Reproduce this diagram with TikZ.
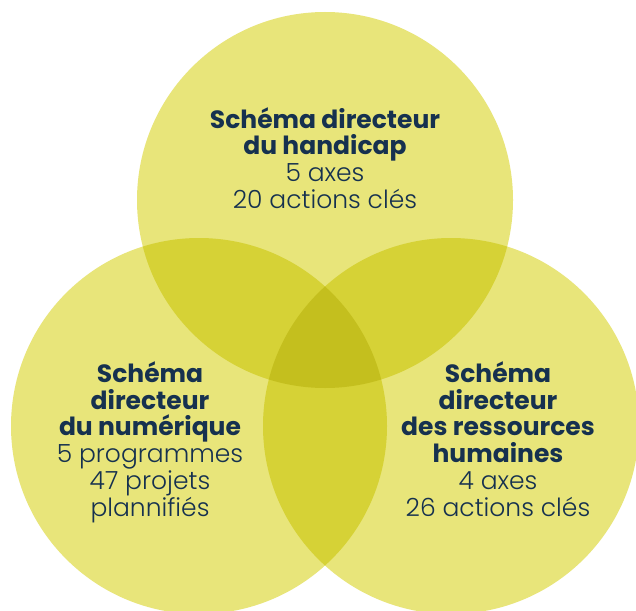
\documentclass[tikz,border=0pt]{standalone}
\usepackage{fontspec}
\setmainfont{Poppins}[UprightFont=* Light, BoldFont=* Bold]
\definecolor{lightY}{HTML}{E8E57A}
\definecolor{midY}{HTML}{D6D236}
\definecolor{darkY}{HTML}{C4BF1E}
\definecolor{navy}{HTML}{16314F}
\tikzset{
  txt/.style={align=center, text=navy, font=\fontsize{25}{26.8}\selectfont, inner sep=0pt},
}
\begin{document}
\begin{tikzpicture}[x=1pt,y=-1pt]
\useasboundingbox (0,0) rectangle (636,610);
\fill[white] (0,0) rectangle (636,610);
\coordinate (T) at (325,200);
\coordinate (L) at (199,426);
\coordinate (R) at (451,426);
\begin{scope}
\clip (0,0) rectangle (636,610);
\fill[lightY] (T) circle[radius=188pt];
\fill[lightY] (L) circle[radius=188pt];
\fill[lightY] (R) circle[radius=188pt];
\begin{scope}
\clip (T) circle[radius=188pt];
\fill[midY] (L) circle[radius=188pt];
\fill[midY] (R) circle[radius=188pt];
\end{scope}
\begin{scope}
\clip (L) circle[radius=188pt];
\fill[midY] (R) circle[radius=188pt];
\end{scope}
\begin{scope}
\clip (T) circle[radius=188pt];
\clip (L) circle[radius=188pt];
\fill[darkY] (R) circle[radius=188pt];
\end{scope}
\end{scope}
\node[txt] (handicap) at (325,158) {\textbf{Schéma directeur}\\\textbf{du handicap}\\5 axes\\20 actions clés};
\node[txt] (numerique) at (150,442) {\textbf{Schéma}\\\textbf{directeur}\\\textbf{du numérique}\\5 programmes\\47 projets\\plannifiés};
\node[txt] (rh) at (498,439) {\textbf{Schéma}\\\textbf{directeur}\\\textbf{des ressources}\\\textbf{humaines}\\4 axes\\26 actions clés};
\end{tikzpicture}
\end{document}
